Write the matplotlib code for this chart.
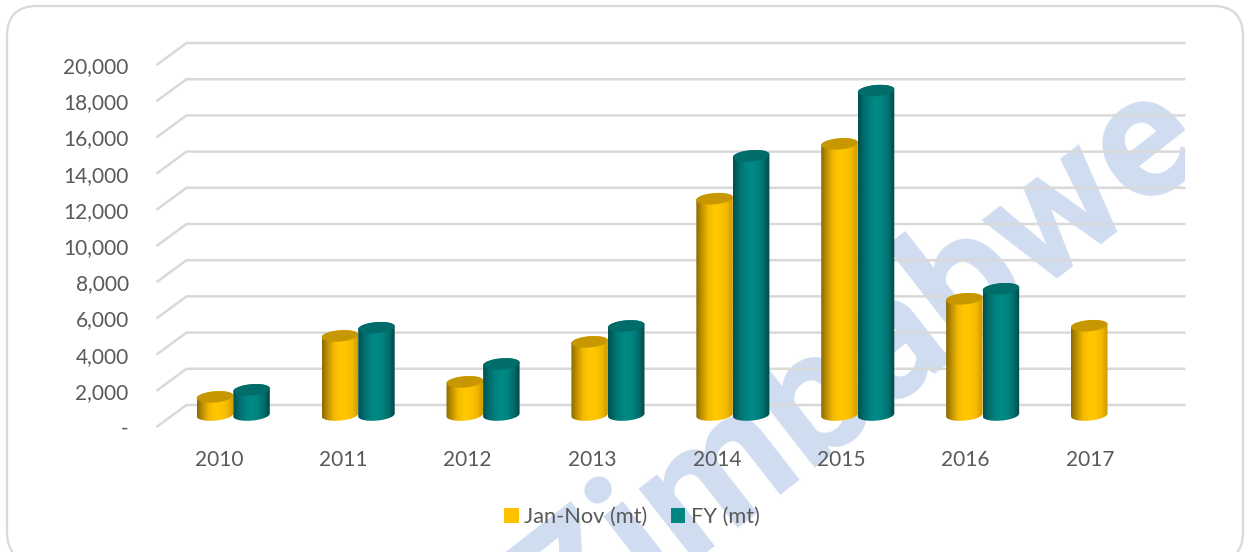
import numpy as np
import matplotlib
matplotlib.use("Agg")
import matplotlib.pyplot as plt
from matplotlib.colors import LinearSegmentedColormap
from matplotlib.patches import FancyBboxPatch, PathPatch, Patch, Rectangle
from matplotlib.path import Path

years = ["2010", "2011", "2012", "2013", "2014", "2015", "2016", "2017"]
jan_nov = [1000, 4370, 1830, 4040, 11950, 14980, 6420, 4930]
fy = [1390, 4820, 2820, 4920, 14320, 17920, 6970, None]
y_ticks = list(range(0, 20001, 2000))
y_labels = ["-"] + [f"{v:,}" for v in y_ticks[1:]]

W, H = 1244, 552
FONT = "Lato"
TXT = "#595959"
GRID = "#d9d9d9"

fig = plt.figure(figsize=(W / 100, H / 100), dpi=100, facecolor="white")
L, R, TOP, BOT = 156.5, 1152.5, 65, 427
ax = fig.add_axes([L / W, 1 - BOT / H, (R - L) / W, (BOT - TOP) / H], facecolor="none")
ax.set_xlim(-0.5, 7.5)
ax.set_ylim(0, 20000)
ux = (R - L) / 8          # px per category
uy = (BOT - TOP) / 20000  # px per value unit

for s in ax.spines.values():
    s.set_visible(False)
ax.set_xticks(range(len(years)), years, fontsize=15, color=TXT, family=FONT)
ax.set_yticks(y_ticks, y_labels, fontsize=15, color=TXT, family=FONT)
ax.tick_params(length=0, axis="x", pad=16.5)
ax.tick_params(length=0, axis="y", pad=20)

box = FancyBboxPatch((7 + 30, H - 562 + 30), 1236 - 60, 556 - 60,
                     boxstyle="round,pad=30,rounding_size=30",
                     transform=None, fc="white", ec="#d9d9d9", lw=1.6, zorder=-5)
fig.add_artist(box)

# watermark
to_data_x = lambda px: -0.5 + (px - L) / ux
to_data_y = lambda py: (BOT - py) / uy
wm = ax.text(to_data_x(860), to_data_y(367), "Zimbabwe", fontsize=126, family="Roboto",
             color="#d0ddf0", rotation=38, rotation_mode="anchor",
             ha="center", va="center", zorder=0, fontweight="bold")
clip = Rectangle((0, 0), 1185 / W, 1, transform=fig.transFigure)
wm.set_clip_path(clip)
wm.set_clip_on(True)

# perspective gridlines
dx, dy = 30 / ux, 22 / uy
for v in y_ticks:
    ax.plot([-0.5, -0.5 + dx, 7.5 + dx + 3 / ux], [v, v + dy, v + dy], color=GRID, lw=1.8,
            zorder=1, clip_on=False, solid_capstyle="butt", solid_joinstyle="miter")

cm_y = LinearSegmentedColormap.from_list("y", ["#8a6a00", "#c49400", "#f5bb00", "#ffc800", "#ffc400", "#f2b800", "#c99a00"])
cm_t = LinearSegmentedColormap.from_list("t", ["#004f4f", "#006e6c", "#008280", "#008a86", "#008380", "#006e6c", "#004848"])
grad = np.linspace(0, 1, 128)[None, :]

bw = 36.6 / ux
off_x = 14.5 / ux
step_x = 0.4 / ux
off_y = 12 / uy
a_px, b_px, tilt = 18.3, 5.6, np.deg2rad(5)


def ell(cx, cy, t):
    # tilted ellipse outline in data coordinates; right side sits higher
    ex = a_px * np.cos(t)
    ey = b_px * np.sin(t)
    xr = ex * np.cos(tilt) - ey * np.sin(tilt)
    yr = ex * np.sin(tilt) + ey * np.cos(tilt)
    return cx + xr / ux, cy + yr / uy


def cylinder(cx, val, cmap, top_col, z):
    if val is None:
        return
    base = off_y
    t_low = np.linspace(np.pi, 2 * np.pi, 40)
    t_top = np.linspace(0, np.pi, 40)
    bx, by = ell(cx, base, t_low)
    tx, ty = ell(cx, base + val, t_top)
    verts = np.r_[np.c_[bx, by], np.c_[tx, ty], [[bx[0], by[0]]]]
    codes = [Path.MOVETO] + [Path.LINETO] * (len(verts) - 2) + [Path.CLOSEPOLY]
    body = PathPatch(Path(verts, codes), fc="none", ec="none", transform=ax.transData, zorder=z)
    ax.add_patch(body)
    im = ax.imshow(grad, cmap=cmap, aspect="auto", zorder=z, interpolation="bilinear",
                   extent=[cx - bw / 2, cx + bw / 2, base - 400, base + val + 400])
    im.set_clip_path(body)
    t = np.linspace(0, 2 * np.pi, 80)
    ex, ey = ell(cx, base + val, t)
    ax.fill(ex, ey, color=top_col, zorder=z + 0.1, lw=0)


for i in range(len(years)):
    c = i + off_x + i * step_x
    cylinder(c - bw / 2, jan_nov[i], cm_y, "#c69700", 3 + i * 0.01)
    cylinder(c + bw / 2, fy[i], cm_t, "#006d6a", 4 + i * 0.01)

ax.set_xlim(-0.5, 7.5)
ax.set_ylim(0, 20000)

leg = ax.legend(handles=[Patch(fc="#ffc000", label="Jan-Nov (mt)"), Patch(fc="#008583", label="FY (mt)")],
                loc="center", bbox_to_anchor=(632 / W, 1 - 517 / H), bbox_transform=fig.transFigure,
                ncol=2, frameon=False, prop={"family": FONT, "size": 15.7}, labelcolor=TXT,
                handlelength=0.68, handleheight=0.68, handletextpad=0.25, columnspacing=1.05)

fig.savefig("out.png", dpi=100)
